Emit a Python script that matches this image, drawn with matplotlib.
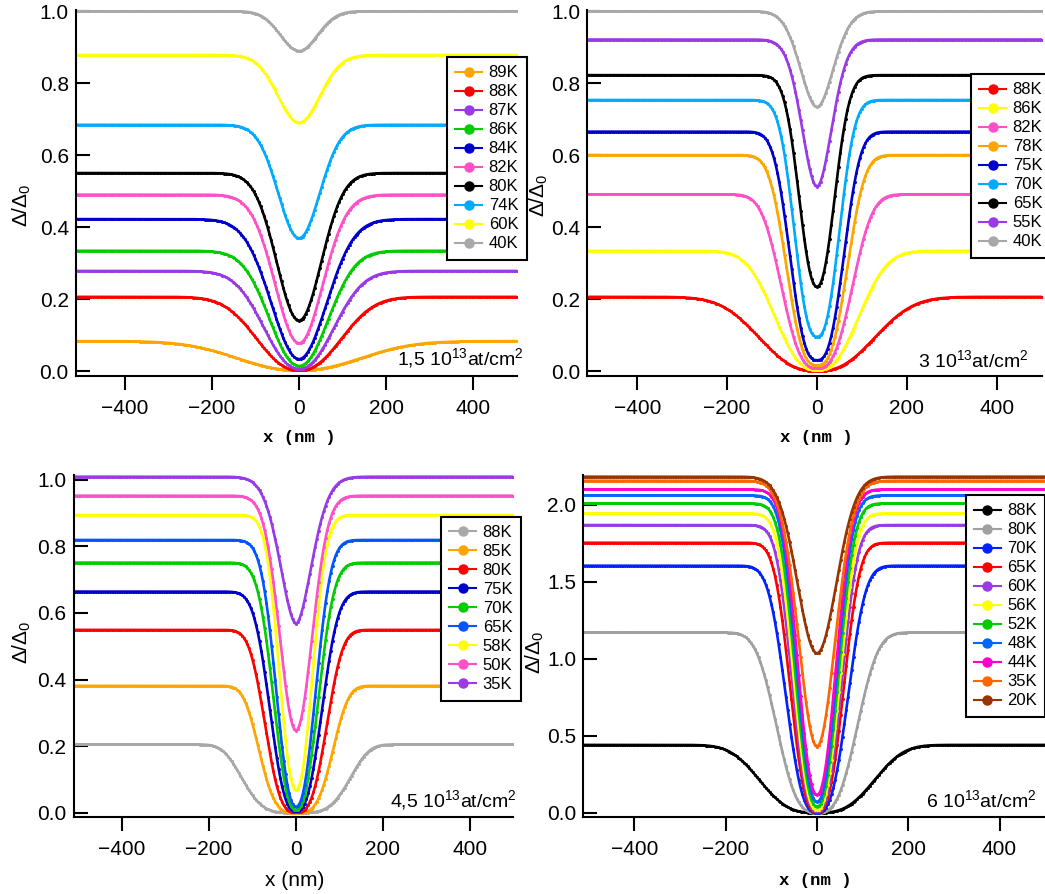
import numpy as np
import matplotlib
matplotlib.use("Agg")
import matplotlib.pyplot as plt
from matplotlib.lines import Line2D

plt.rcParams['font.family'] = ['Liberation Sans', 'DejaVu Sans']
plt.rcParams['mathtext.fontset'] = 'custom'
plt.rcParams['mathtext.rm'] = 'Liberation Sans'
plt.rcParams['mathtext.it'] = 'Liberation Sans:italic'

W, H = 1045, 894

# profils : plateau, valeur au centre, largeur (nm), exposant
# 1,5 10^13 at/cm2
t1 = ["89K", "88K", "87K", "86K", "84K", "82K", "80K", "74K", "60K", "40K"]
plateau1 = [0.083, 0.206, 0.278, 0.334, 0.422, 0.490, 0.550, 0.684, 0.878, 1.000]
centre1 = [0.002, 0.002, 0.006, 0.014, 0.033, 0.077, 0.140, 0.369, 0.690, 0.889]
largeur1 = [188, 125, 106, 92, 89, 77, 72, 67, 68, 60]
expo1 = [2.2, 2.3, 2.2, 2.1, 2.0, 2.0, 2.0, 2.0, 2.0, 2.0]
coul1 = ["#FFA500", "#FF0000", "#9A3AE6", "#00CC00", "#0000CC", "#FF50C8",
         "#000000", "#00AAFF", "#FFFF00", "#A8A8A8"]

# 3 10^13 at/cm2
t2 = ["88K", "86K", "82K", "78K", "75K", "70K", "65K", "55K", "40K"]
plateau2 = [0.206, 0.334, 0.491, 0.600, 0.665, 0.753, 0.822, 0.921, 1.000]
centre2 = [0.000, 0.002, 0.008, 0.016, 0.030, 0.095, 0.234, 0.512, 0.733]
largeur2 = [158, 115, 93, 80, 72, 62, 52, 47, 52]
expo2 = [2.5, 2.5, 2.8, 2.8, 2.7, 2.5, 2.2, 1.9, 1.9]
coul2 = ["#FF0000", "#FFFF00", "#FF50C8", "#FFA500", "#0000CC", "#00AAFF",
         "#000000", "#9A3AE6", "#A8A8A8"]

# 4,5 10^13 at/cm2
t3 = ["88K", "85K", "80K", "75K", "70K", "65K", "58K", "50K", "35K"]
plateau3 = [0.205, 0.381, 0.549, 0.664, 0.751, 0.819, 0.894, 0.952, 1.009]
centre3 = [0.000, 0.000, 0.001, 0.004, 0.008, 0.018, 0.068, 0.246, 0.567]
largeur3 = [136, 95, 82, 72, 64, 58, 50, 52, 52]
expo3 = [4.0, 3.5, 3.0, 2.6, 2.4, 2.3, 2.2, 2.0, 1.8]
coul3 = ["#A8A8A8", "#FFA500", "#FF0000", "#0000CC", "#00CC00", "#0055FF",
         "#FFFF00", "#FF50C8", "#9A3AE6"]

# 6 10^13 at/cm2
t4 = ["88K", "80K", "70K", "65K", "60K", "56K", "52K", "48K", "44K", "35K", "20K"]
plateau4 = [0.440, 1.171, 1.604, 1.753, 1.868, 1.944, 2.009, 2.061, 2.100, 2.156, 2.182]
centre4 = [0.000, 0.000, 0.000, 0.003, 0.008, 0.018, 0.040, 0.071, 0.115, 0.429, 1.035]
largeur4 = [145, 102, 80, 70, 66, 63, 60, 57, 55, 56, 60]
expo4 = [3.0, 3.0, 2.8, 2.7, 2.6, 2.5, 2.4, 2.3, 2.2, 2.0, 2.0]
coul4 = ["#000000", "#A0A0A0", "#0022FF", "#FF0000", "#9A3AE6", "#FFFF00",
         "#00CC00", "#0066FF", "#FF00CC", "#FF6600", "#993300"]

x = np.arange(-512, 501, 4)


def profil(x, p, m, w, n):
    return p - (p - m) * np.exp(-np.abs(x / w) ** n)


def boite(l, t, r, b):
    return [l / W, 1 - b / H, (r - l) / W, (b - t) / H]


fig = plt.figure(figsize=(W / 100, H / 100), dpi=100)

panneaux = [
    (boite(75.8, 10, 517, 376.3), (-0.0147, 1.003), np.arange(0, 1.01, 0.2),
     t1, plateau1, centre1, largeur1, expo1, coul1, (447, 57),
     "1,5 10$^{13}$at/cm$^{2}$", (524, 365), (22, 205), (299, 437), True),
    (boite(587, 10, 1041.5, 376.3), (-0.0147, 1.003), np.arange(0, 1.01, 0.2),
     t2, plateau2, centre2, largeur2, expo2, coul2, (971, 74),
     "3 10$^{13}$at/cm$^{2}$", (1029, 367), (539, 195), (816, 437), True),
    (boite(73.5, 474.7, 513.3, 817.3), (-0.0138, 1.015), np.arange(0, 1.01, 0.2),
     t3, plateau3, centre3, largeur3, expo3, coul3, (441, 517),
     "4,5 10$^{13}$at/cm$^{2}$", (517, 807), (22, 642), (295, 881), False),
    (boite(583.3, 474.7, 1045.2, 817.3), (-0.030, 2.195), np.arange(0, 2.01, 0.5),
     t4, plateau4, centre4, largeur4, expo4, coul4, (965.6, 495),
     "6 10$^{13}$at/cm$^{2}$", (1037, 807), (535, 652), (815, 881), True),
]

for (pos, ylim, yt, temps, pl, ce, la, ex, co, legpos, dose, dosepos,
     ylabpos, xlabpos, courier) in panneaux:
    ax = fig.add_axes(pos)
    handles = []
    for i in range(len(temps)):
        y = profil(x, pl[i], ce[i], la[i], ex[i])
        ax.plot(x, y, color=co[i], lw=1.9, marker="o", ms=2.2, mew=0)
        handles.append(Line2D([], [], color=co[i], lw=1.5, marker="o", ms=6.5))
    ax.set_xlim(-512, 500)
    ax.set_ylim(*ylim)
    ax.set_xticks([-400, -200, 0, 200, 400])
    ax.set_yticks(yt)
    ax.set_yticklabels([f"{v:.1f}" for v in yt])
    for s in ["top", "right"]:
        ax.spines[s].set_visible(False)
    for s in ["left", "bottom"]:
        ax.spines[s].set_linewidth(1.5)
    ax.tick_params(axis="x", direction="out", length=10, width=1.5, pad=6.5,
                   labelsize=15)
    ax.tick_params(axis="y", direction="in", length=10, width=1.5, pad=5,
                   labelsize=15)
    ax.patch.set_alpha(0)

    leg = fig.legend(handles, temps, loc="upper left",
                     bbox_to_anchor=(legpos[0] / W, 1 - legpos[1] / H),
                     borderaxespad=0, fontsize=12, frameon=True, fancybox=False,
                     framealpha=1, edgecolor="black", handlelength=1.6,
                     handletextpad=0.4, labelspacing=0.24, borderpad=0.5)
    leg.get_frame().set_linewidth(1.5)

    fig.text(dosepos[0] / W, 1 - dosepos[1] / H, dose, ha="right",
             va="baseline", fontsize=14)
    fig.text(ylabpos[0] / W, 1 - ylabpos[1] / H, "Δ/Δ$_0$", rotation=90,
             ha="center", va="center", fontsize=15)
    if courier:
        fig.text(xlabpos[0] / W, 1 - xlabpos[1] / H, "x (nm )", ha="center",
                 va="center", fontsize=12.5, fontweight="bold",
                 family=["Liberation Mono", "DejaVu Sans Mono"])
    else:
        fig.text(xlabpos[0] / W, 1 - xlabpos[1] / H, "x (nm)", ha="center",
                 va="center", fontsize=15)

fig.savefig("out.png", dpi=100)
